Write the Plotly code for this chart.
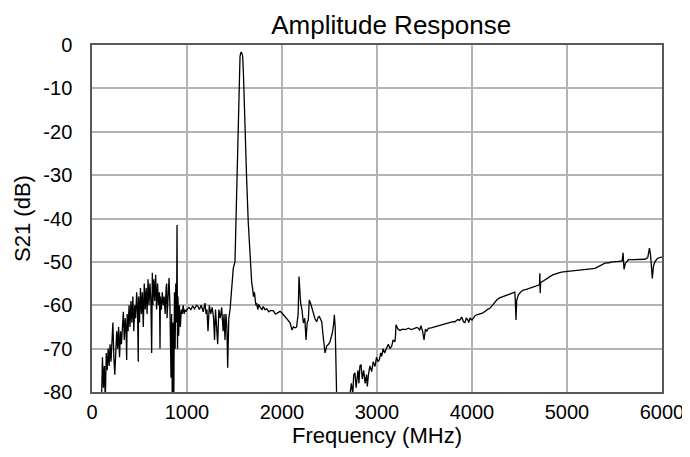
import plotly.graph_objects as go

freq_low = [100, 110, 120, 130, 140, 150, 160, 170, 180, 190, 200, 210, 220, 230, 240, 250, 260, 270, 280, 290,
            300, 310, 320, 330, 340, 350, 360, 365, 370, 380, 390, 400, 410, 420, 430, 440, 450, 460, 470, 480,
            487, 490, 500, 510, 520, 530, 540, 550, 560, 570, 580, 590, 600, 610, 620, 628, 635, 640, 650, 660,
            670, 680, 690, 700, 710, 716, 720, 730, 740, 750, 760, 770, 780, 786, 790, 800, 811, 820, 832, 838,
            845, 852, 860, 868, 875, 882, 890, 895, 900, 905, 912, 920, 930, 940, 950, 960, 970, 980, 990]
s21_low = [-82, -72, -79, -74, -82, -71, -75, -70, -74, -69, -73, -68, -64, -72, -76, -71, -66, -70, -65, -72,
           -66, -69, -64, -61.5, -68, -63, -67, -72.6, -62, -66, -60, -65, -59, -64, -58, -66, -60, -63, -57, -62,
           -73, -58, -64, -56, -62, -57, -65, -55, -61, -56, -62, -54, -60, -55, -59, -71, -52.5, -60, -54, -59,
           -53, -61, -55, -60, -57, -70, -58, -61, -57, -60, -58, -62, -56, -55, -63, -58, -53.7, -60, -76.7, -62,
           -82, -64, -85, -57, -70, -55, -64, -41.5, -70, -58, -67, -60, -65, -61, -62, -60, -62, -61, -61.5]

freq_mid = [1000, 1020, 1040, 1060, 1080, 1100, 1116, 1130, 1150, 1170, 1190, 1200, 1210, 1221, 1235, 1250, 1265,
            1280, 1290, 1300, 1310, 1323, 1335, 1350, 1365, 1380, 1390, 1400, 1410, 1420, 1428, 1440, 1453, 1470,
            1487, 1505, 1515, 1523, 1535, 1544, 1550, 1558, 1565, 1572, 1580, 1586, 1593, 1600, 1614, 1628, 1645,
            1660, 1670, 1681, 1690, 1700, 1710, 1716, 1725, 1733, 1745, 1755, 1770, 1790, 1803, 1820, 1840, 1860,
            1880, 1909, 1930, 1950, 1979, 2000, 2030, 2060, 2084, 2106, 2120, 2140, 2154, 2170, 2179, 2196, 2210,
            2225, 2240, 2253, 2265, 2277, 2287, 2300, 2312, 2330, 2347, 2365, 2380, 2393, 2405, 2418, 2435, 2453,
            2470, 2490, 2505, 2520, 2530, 2545, 2551, 2560, 2568, 2582]
s21_mid = [-61, -60.5, -61, -60.2, -60.8, -60, -60.3, -61, -60, -61.5, -59.5, -62, -61, -66, -60, -62, -60.5,
           -63, -68, -61, -64, -69, -61, -63, -60.5, -66, -62, -68, -62, -65, -74.4, -63, -61, -55,
           -51.5, -50, -40, -31, -20, -11.9, -6, -2.7, -1.8, -1.7, -2, -2.7, -6, -11.9, -21, -31, -41,
           -48, -51.8, -54.8, -56, -58, -57, -58.4, -60, -59.5, -61, -59.8, -60.5, -61, -60.3, -61, -60.8, -61.5,
           -61.2, -61.3, -62, -61.8, -61.4, -61.8, -62.5, -63.4, -64, -65.7, -65, -65.2, -65, -62, -53.4, -59.5, -61,
           -64.1, -63, -68, -64, -63.4, -58.8, -59.5, -60.6, -62.2, -63.1, -63.8, -62.8, -62.6, -63.2, -63.8, -67.5, -71,
           -69.4, -69, -68.4, -67, -66.4, -64, -62.2, -65, -72, -88]

freq_high = [2650, 2700, 2716, 2730, 2745, 2755, 2768, 2780, 2790, 2800, 2810, 2820, 2832, 2845, 2860, 2875, 2890,
             2898, 2910, 2925, 2944, 2960, 2979, 2995, 3010, 3024, 3040, 3049, 3065, 3080, 3102, 3120, 3135, 3154,
             3170, 3189, 3195, 3200, 3220, 3242, 3270, 3300, 3330, 3360, 3390, 3420, 3435, 3450, 3462, 3480, 3495,
             3510, 3525, 3540, 3570, 3600, 3630, 3660, 3681, 3710, 3740, 3770, 3800, 3821, 3850, 3870, 3891, 3910,
             3925, 3940, 3955, 3965, 3979, 4000, 4032, 4049, 4080, 4110, 4140, 4160, 4189, 4220, 4260, 4290, 4330,
             4370, 4400, 4435, 4450, 4455, 4463, 4470, 4488, 4510, 4540, 4580, 4620, 4660, 4690, 4710, 4714, 4718,
             4722, 4750, 4786, 4820, 4850, 4891, 4930, 4960, 4996, 5050, 5100, 5150, 5200, 5250, 5295, 5340, 5370,
             5400, 5440, 5480, 5540, 5580, 5590, 5600, 5615, 5630, 5646, 5700, 5760, 5821, 5850, 5868, 5880, 5898,
             5910, 5925, 5944, 5970, 6000]
s21_high = [-86, -84, -80.5, -78, -80.5, -76, -75.6, -79, -77, -75, -78, -74, -73.7, -77, -75, -78, -76,
            -78.7, -76, -74, -75.3, -73, -74.1, -72, -73, -72.6, -71, -71.8, -70, -71, -69.8, -69, -70, -69.5,
            -68, -68.4, -67, -64.5, -65.5, -65.8, -65.5, -65.6, -65.3, -65.6, -65.4, -65.1, -65.3, -65.8, -64.7, -66, -68,
            -65.5, -66, -65.3, -65.2, -65, -64.8, -64.6, -64.5, -64.3, -64.2, -64, -63.8, -63.8, -63.3, -63.5, -62.7, -63.8,
            -64, -63, -63.3, -64, -63, -63.4, -62.4, -62.2, -62, -61.8, -61.4, -61, -60.7, -59.8, -58.8, -58.3, -58,
            -57.7, -57.5, -57.2, -57, -58.5, -63.4, -59, -57.6, -57, -56.5, -56.3, -56, -55.8, -55.5, -55.3, -52.6, -57.2,
            -54.8, -54.4, -53.8, -53.4, -53, -52.6, -52.4, -52.3, -52.2, -52, -51.9, -51.8, -51.7, -51.6, -51.5, -51, -50.6,
            -50.3, -50.2, -50, -49.9, -49.8, -47.9, -51.7, -50.3, -49.8, -49.5, -49.5, -49.4, -49.4, -49, -46.8, -48.5, -53.8,
            -51, -50, -49.4, -49, -48.9]

freq = freq_low + freq_mid + freq_high
s21 = s21_low + s21_mid + s21_high

x_ticks = [0, 1000, 2000, 3000, 4000, 5000, 6000]
y_ticks = [0, -10, -20, -30, -40, -50, -60, -70, -80]

fig = go.Figure(go.Scatter(x=freq, y=s21, mode="lines",
                           line=dict(color="black", width=1.3), showlegend=False))

font_family = "Liberation Sans, Arial, sans-serif"
fig.update_layout(
    width=682, height=441,
    margin=dict(l=84, r=28, t=37, b=57, autoexpand=False),
    paper_bgcolor="white", plot_bgcolor="white",
    font=dict(family=font_family, color="black", size=20),
    title=dict(text="Amplitude Response", x=0.525, xref="paper", xanchor="center",
               y=0.962, yref="container", yanchor="middle",
               font=dict(size=26, family=font_family, color="black")),
    xaxis=dict(range=[0, 6000], tickvals=x_ticks, ticktext=[str(v) for v in x_ticks],
               showgrid=True, gridcolor="#b3b3b3", gridwidth=1.5,
               showline=True, linecolor="#595959", linewidth=1.5, mirror=True,
               ticks="", ticklabelstandoff=1, ticklabeloverflow="allow", zeroline=False,
               automargin=False,
               title=dict(text="Frequency (MHz)", standoff=5, font=dict(size=22)),
               tickfont=dict(size=20)),
    yaxis=dict(range=[-80, 0], tickvals=y_ticks, ticktext=[str(v) for v in y_ticks],
               showgrid=True, gridcolor="#b3b3b3", gridwidth=1.5,
               showline=True, linecolor="#595959", linewidth=1.5, mirror=True,
               ticks="", ticklabelstandoff=14, zeroline=False,
               automargin=False,
               title=dict(text="S21 (dB)", standoff=7, font=dict(size=22)),
               tickfont=dict(size=20)),
)

fig.write_html("out.html")
